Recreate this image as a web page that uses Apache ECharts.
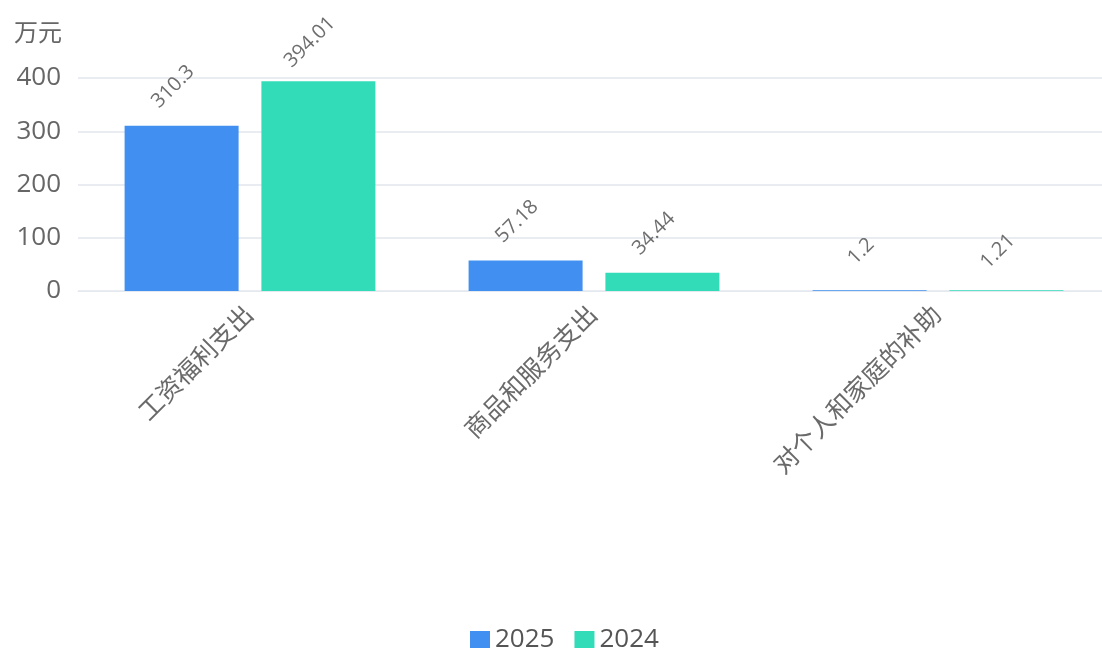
<!DOCTYPE html>
<html>
<head>
<meta charset="utf-8">
<script src="https://cdn.jsdelivr.net/npm/echarts@6/dist/echarts.min.js"></script>
<style>
html,body{margin:0;padding:0;background:#fff;}
#main{width:1102px;height:648px;}
</style>
</head>
<body>
<div id="main"></div>
<script>
var categories = ['工资福利支出', '商品和服务支出', '对个人和家庭的补助'];
var seriesNames = ['2025', '2024'];
var values2025 = [310.3, 57.18, 1.2];
var values2024 = [394.01, 34.44, 1.21];
var yTicks = [0, 100, 200, 300, 400];
var unitName = '万元';

var FONT = "'Open Sans', 'Noto Sans CJK SC', sans-serif";
var chart = echarts.init(document.getElementById('main'));
var labelCfg = {
  show: true,
  position: 'top',
  rotate: 45,
  align: 'center',
  verticalAlign: 'middle',
  distance: 39,
  offset: [-6, -6],
  color: '#6e6e6e',
  fontSize: 20,
  fontFamily: FONT
};
chart.setOption({
  animation: false,
  backgroundColor: '#fff',
  color: ['#418ff0', '#33dcb8'],
  textStyle: { fontFamily: FONT },
  grid: { left: 78, width: 1032, top: 78, bottom: 357, containLabel: false, outerBoundsMode: 'none' },
  legend: {
    data: seriesNames,
    left: 465,
    top: 622,
    itemWidth: 20,
    itemHeight: 18,
    itemGap: 20,
    icon: 'rect',
    textStyle: { fontSize: 26, color: '#555', fontFamily: FONT }
  },
  xAxis: {
    type: 'category',
    data: categories,
    axisTick: { show: false },
    axisLine: { lineStyle: { color: '#e4e9ef' } },
    axisLabel: { rotate: 45, margin: 20, fontSize: 25, color: '#6a6a6a', fontFamily: FONT, interval: 0 }
  },
  yAxis: {
    type: 'value',
    min: yTicks[0],
    max: yTicks[yTicks.length - 1],
    interval: yTicks[1] - yTicks[0],
    name: unitName,
    nameGap: 32,
    nameTextStyle: { fontSize: 24, color: '#666', align: 'right', padding: [0, 16, 0, 0], fontFamily: FONT },
    axisLine: { show: false },
    axisTick: { show: false },
    axisLabel: { margin: 17, fontSize: 26, color: '#666', fontFamily: FONT },
    splitLine: { lineStyle: { color: '#e9edf2', width: 2 } }
  },
  series: [
    { name: seriesNames[0], type: 'bar', data: values2025, barWidth: 114, barGap: '20%', label: labelCfg },
    { name: seriesNames[1], type: 'bar', data: values2024, barWidth: 114, barGap: '20%', label: labelCfg }
  ]
});
</script>
</body>
</html>
